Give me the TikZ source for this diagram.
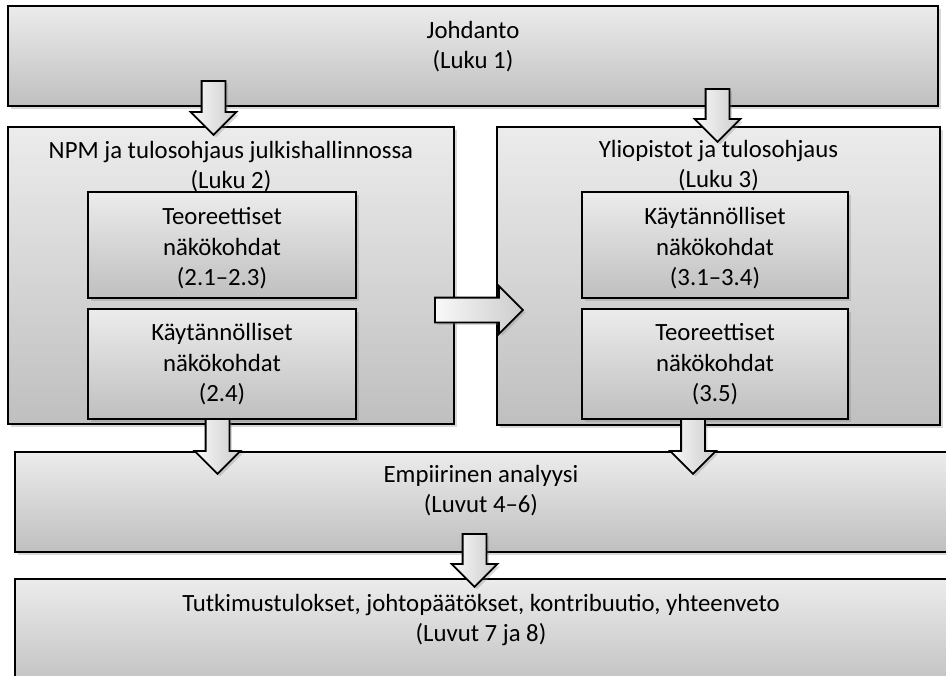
\documentclass[tikz,border=0pt]{standalone}
\usepackage{fontspec}
\setmainfont{Carlito}
\usetikzlibrary{positioning, shapes.arrows, shadows}

\tikzset{
  box/.style={rectangle, draw, line width=1pt, align=center, anchor=north,
    inner xsep=0pt, inner ysep=0pt, top color=gray!15, bottom color=gray!50,
    drop shadow={shadow xshift=0.6mm, shadow yshift=-0.7mm, opacity=0.3}},
  flow/.style={single arrow, draw, line width=1pt, inner sep=0pt, anchor=tail,
    text height=4.4mm, text depth=0pt, single arrow head extend=2.2mm, single arrow tip angle=90,
    left color=gray!5, right color=gray!40,
    drop shadow={shadow xshift=0.5mm, shadow yshift=-0.5mm, opacity=0.3}}
}

\begin{document}
\begin{tikzpicture}[x=0.2mm, y=-0.2mm, font=\fontsize{14.1}{17.4}\selectfont]
\useasboundingbox (0,0) rectangle (946,676);

%Nodes
\node (A) at (473,5) [box, minimum width=186mm, text height=12.6mm, text depth=7.4mm] {Johdanto\\(Luku 1)};

\node (B) at (231,126) [box, minimum width=89.2mm, text height=12.4mm, text depth=47mm] {NPM ja tulosohjaus julkishallinnossa\\(Luku 2)};
\node (C) at (718.5,126) [box, minimum width=88.6mm, text height=12.2mm, text depth=47.4mm] {Yliopistot ja tulosohjaus\\(Luku 3)};

\node (B1) at (222,191) [box, minimum width=53.6mm, text height=18.8mm, text depth=2.4mm] {Teoreettiset\\näkökohdat\\(2.1--2.3)};
\node (B2) at (222,308) [box, minimum width=53.6mm, text height=18.6mm, text depth=3.4mm] {Käytännölliset\\näkökohdat\\(2.4)};
\node (C1) at (715,191) [box, minimum width=53.2mm, text height=18.8mm, text depth=2.4mm] {Käytännölliset\\näkökohdat\\(3.1--3.4)};
\node (C2) at (715,308) [box, minimum width=53.2mm, text height=18.6mm, text depth=3.4mm] {Teoreettiset\\näkökohdat\\(3.5)};

\node (D) at (481,451) [box, minimum width=186.4mm, text height=12.2mm, text depth=7.8mm] {Empiirinen analyysi\\(Luvut 4--6)};
\node (E) at (481,578) [box, minimum width=186.4mm, text height=12.6mm, text depth=9.8mm] {Tutkimustulokset, johtopäätökset, kontribuutio, yhteenveto\\(Luvut 7 ja 8)};

%Arrows
\node (AB) at (213.5,80) [flow, rotate=-90, minimum height=10.8mm] {};
\node (AC) at (717.5,88) [flow, rotate=-90, minimum height=10.6mm] {};

\node (BC) at (434,310) [flow, minimum height=17.6mm, text height=4.6mm, single arrow head extend=2.3mm] {};

\node (BD) at (217.5,418) [flow, rotate=-90, minimum height=11mm] {};
\node (CD) at (693,418) [flow, rotate=-90, minimum height=11mm] {};

\node (DE) at (474.5,533) [flow, rotate=-90, minimum height=10.6mm] {};

\end{tikzpicture}
\end{document}
